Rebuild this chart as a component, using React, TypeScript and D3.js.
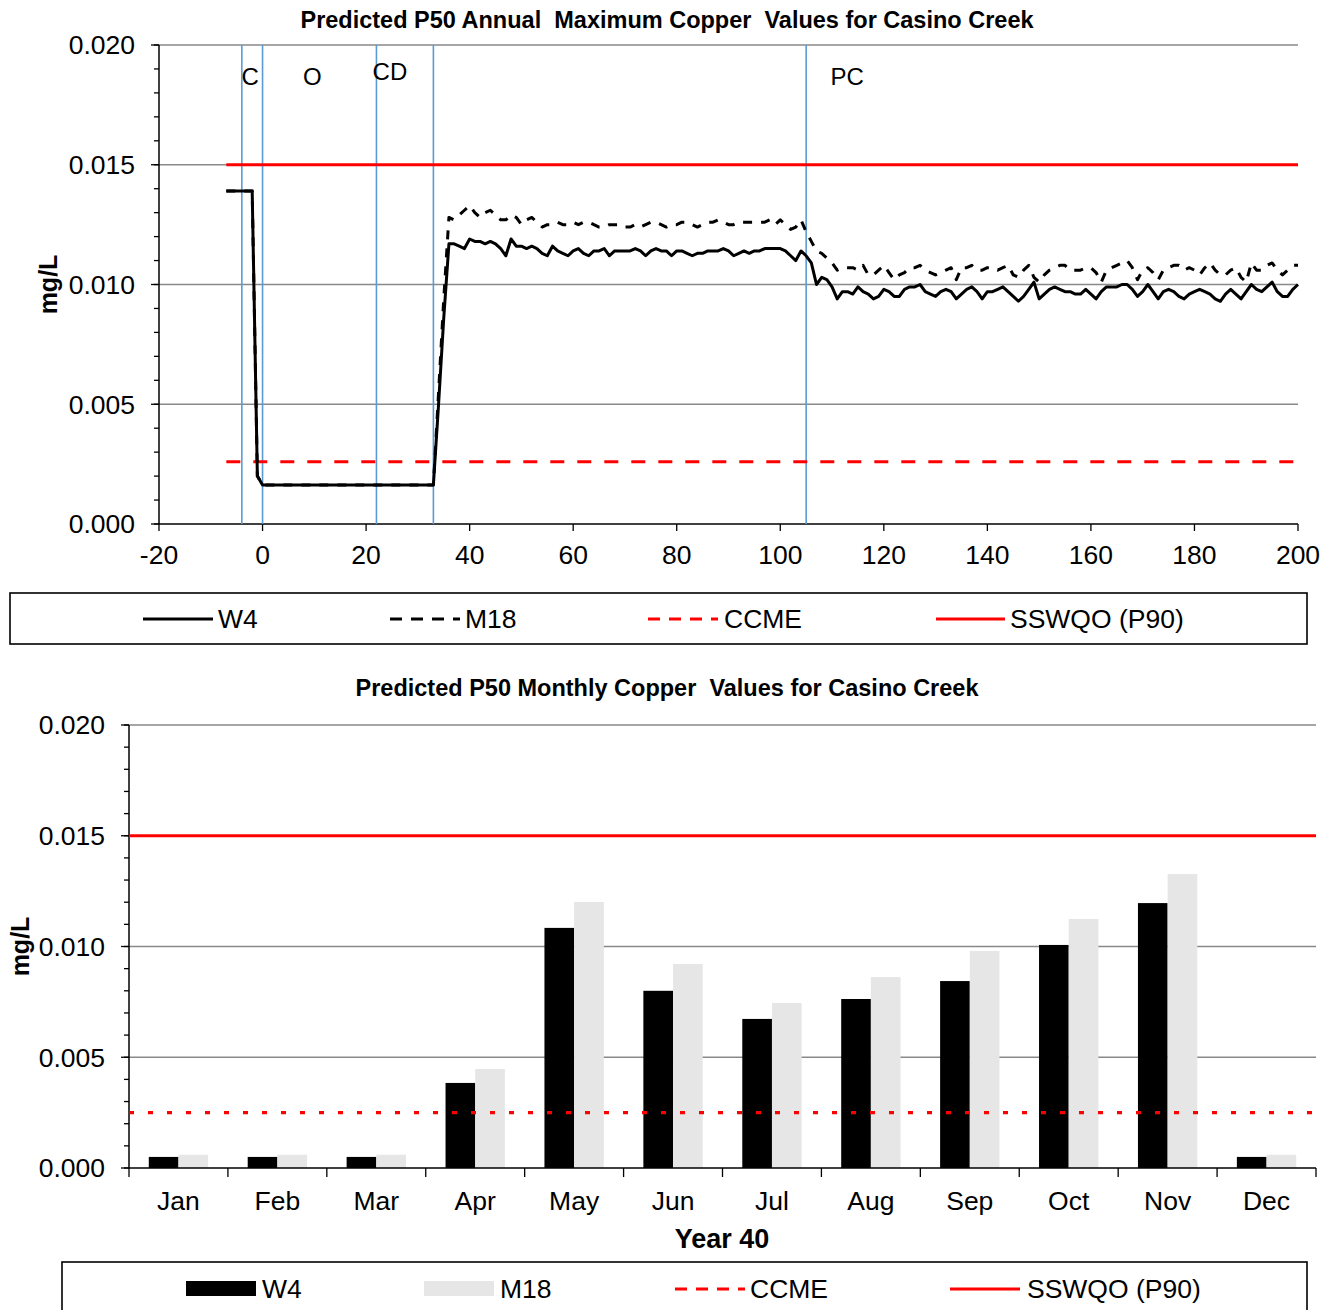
import React from "react";
import * as d3 from "d3";

// ---------- Annual maximum series (years -7 .. 200) ----------
const yearStart = -7;
const w4Annual = [
  // -7 .. -1
  0.0139, 0.0139, 0.0139, 0.0139, 0.0139, 0.0139, 0.0020,
  // 0 .. 33
  0.00163, 0.00163, 0.00163, 0.00163, 0.00163, 0.00163, 0.00163, 0.00163, 0.00163, 0.00163,
  0.00163, 0.00163, 0.00163, 0.00163, 0.00163, 0.00163, 0.00163, 0.00163, 0.00163, 0.00163,
  0.00163, 0.00163, 0.00163, 0.00163, 0.00163, 0.00163, 0.00163, 0.00163, 0.00163, 0.00163,
  0.00163, 0.00163, 0.00163, 0.00163,
  // 34 .. 66
  0.0050, 0.0086, 0.0117, 0.0117, 0.0116, 0.0115, 0.0119, 0.0118, 0.0118, 0.0117,
  0.0118, 0.0117, 0.0115, 0.0112, 0.0119, 0.0116, 0.0116, 0.0115, 0.0116, 0.0115,
  0.0113, 0.0112, 0.0116, 0.0114, 0.0113, 0.0112, 0.0114, 0.0115, 0.0113, 0.0112,
  0.0114, 0.0114, 0.0115,
  // 67 .. 100
  0.0112, 0.0114, 0.0114, 0.0114, 0.0114, 0.0115, 0.0114, 0.0112, 0.0114, 0.0115,
  0.0114, 0.0114, 0.0112, 0.0114, 0.0114, 0.0113, 0.0112, 0.0113, 0.0113, 0.0114,
  0.0114, 0.0114, 0.0115, 0.0114, 0.0112, 0.0113, 0.0114, 0.0113, 0.0114, 0.0114,
  0.0115, 0.0115, 0.0115, 0.0115,
  // 101 .. 150
  0.0114, 0.0112, 0.0110, 0.0114, 0.0112, 0.0109, 0.0100, 0.0103, 0.0102, 0.0099,
  0.0094, 0.0097, 0.0097, 0.0096, 0.0099, 0.0097, 0.0096, 0.0094, 0.0095, 0.0098,
  0.0097, 0.0095, 0.0095, 0.0098, 0.0099, 0.0099, 0.0100, 0.0097, 0.0096, 0.0095,
  0.0097, 0.0098, 0.0097, 0.0094, 0.0096, 0.0098, 0.0099, 0.0097, 0.0094, 0.0097,
  0.0097, 0.0098, 0.0099, 0.0097, 0.0095, 0.0093, 0.0095, 0.0098, 0.0101, 0.0094,
  // 151 .. 200
  0.0096, 0.0098, 0.0099, 0.0098, 0.0097, 0.0097, 0.0096, 0.0096, 0.0098, 0.0096,
  0.0094, 0.0097, 0.0099, 0.0099, 0.0099, 0.0100, 0.0100, 0.0098, 0.0095, 0.0097,
  0.0100, 0.0097, 0.0094, 0.0097, 0.0098, 0.0097, 0.0095, 0.0094, 0.0096, 0.0097,
  0.0098, 0.0097, 0.0096, 0.0094, 0.0093, 0.0096, 0.0098, 0.0096, 0.0094, 0.0097,
  0.0100, 0.0098, 0.0097, 0.0099, 0.0101, 0.0097, 0.0095, 0.0095, 0.0098, 0.0100,
];

const m18Annual = [
  // -7 .. -1
  0.0139, 0.0139, 0.0139, 0.0139, 0.0139, 0.0139, 0.0020,
  // 0 .. 33
  0.00163, 0.00163, 0.00163, 0.00163, 0.00163, 0.00163, 0.00163, 0.00163, 0.00163, 0.00163,
  0.00163, 0.00163, 0.00163, 0.00163, 0.00163, 0.00163, 0.00163, 0.00163, 0.00163, 0.00163,
  0.00163, 0.00163, 0.00163, 0.00163, 0.00163, 0.00163, 0.00163, 0.00163, 0.00163, 0.00163,
  0.00163, 0.00163, 0.00163, 0.00163,
  // 34 .. 66
  0.0055, 0.0094, 0.0128, 0.0127, 0.0129, 0.0131, 0.0133, 0.0130, 0.0128, 0.0130,
  0.0131, 0.0129, 0.0127, 0.0127, 0.0129, 0.0128, 0.0125, 0.0127, 0.0128, 0.0126,
  0.0124, 0.0125, 0.0125, 0.0126, 0.0125, 0.0125, 0.0126, 0.0125, 0.0126, 0.0126,
  0.0125, 0.0124, 0.0124,
  // 67 .. 100
  0.0125, 0.0125, 0.0125, 0.0124, 0.0124, 0.0125, 0.0124, 0.0125, 0.0126, 0.0126,
  0.0125, 0.0124, 0.0125, 0.0125, 0.0126, 0.0126, 0.0125, 0.0124, 0.0125, 0.0126,
  0.0126, 0.0127, 0.0126, 0.0125, 0.0125, 0.0126, 0.0126, 0.0126, 0.0126, 0.0126,
  0.0126, 0.0127, 0.0125, 0.0127,
  // 101 .. 150
  0.0125, 0.0123, 0.0124, 0.0127, 0.0122, 0.0118, 0.0114, 0.0113, 0.0111, 0.0109,
  0.0106, 0.0107, 0.0107, 0.0107, 0.0106, 0.0108, 0.0104, 0.0104, 0.0106, 0.0108,
  0.0105, 0.0102, 0.0104, 0.0105, 0.0107, 0.0107, 0.0108, 0.0106, 0.0105, 0.0104,
  0.0105, 0.0106, 0.0107, 0.0102, 0.0107, 0.0107, 0.0108, 0.0106, 0.0106, 0.0107,
  0.0107, 0.0106, 0.0107, 0.0108, 0.0104, 0.0103, 0.0106, 0.0108, 0.0103, 0.0101,
  // 151 .. 200
  0.0104, 0.0106, 0.0107, 0.0108, 0.0108, 0.0106, 0.0106, 0.0106, 0.0107, 0.0107,
  0.0105, 0.0101, 0.0106, 0.0107, 0.0108, 0.0109, 0.0110, 0.0107, 0.0102, 0.0106,
  0.0107, 0.0105, 0.0102, 0.0106, 0.0107, 0.0108, 0.0108, 0.0106, 0.0107, 0.0106,
  0.0104, 0.0107, 0.0109, 0.0106, 0.0104, 0.0104, 0.0106, 0.0107, 0.0103, 0.0101,
  0.0109, 0.0106, 0.0106, 0.0108, 0.0109, 0.0106, 0.0104, 0.0106, 0.0108, 0.0108,
];

// Mine phase boundaries and labels
const phaseBoundaries = [-4, 0, 22, 33, 105];
const phaseLabels = [
  { label: "C", year: -2.4, value: 0.0187 },
  { label: "O", year: 9.6, value: 0.0187 },
  { label: "CD", year: 24.6, value: 0.0189 },
  { label: "PC", year: 112.9, value: 0.0187 },
];

// Guidelines
const sswqo = 0.015;
const ccmeAnnual = 0.0026;
const ccmeMonthly = 0.0025;

// ---------- Monthly series (Year 40) ----------
const months = ["Jan", "Feb", "Mar", "Apr", "May", "Jun", "Jul", "Aug", "Sep", "Oct", "Nov", "Dec"];
const w4Monthly = [0.0005, 0.0005, 0.0005, 0.00384, 0.01084, 0.0080, 0.00673, 0.00763, 0.00844, 0.01007, 0.01196, 0.0005];
const m18Monthly = [0.0006, 0.0006, 0.0006, 0.00447, 0.01201, 0.00921, 0.00745, 0.00862, 0.0098, 0.01124, 0.01327, 0.0006];

const yTicks = [0, 0.005, 0.01, 0.015, 0.02];
const xTicksAnnual = [-20, 0, 20, 40, 60, 80, 100, 120, 140, 160, 180, 200];

const FONT = "'Liberation Sans', Arial, sans-serif";
const GRID = "#898989";
const BLUE = "#5B9BD5";
const RED = "#FF0000";
const LIGHT = "#E6E6E6";
const FS = 26.5;
const TITLE_FS = 23.5;

function YAxis({ y, x0, x1, labelX }: { y: d3.ScaleLinear<number, number>; x0: number; x1: number; labelX: number }) {
  const minor = d3.range(0, 21).map((i) => i * 0.001);
  return (
    <g>
      {yTicks.slice(1).map((t) => (
        <line key={"g" + t} x1={x0} x2={x1} y1={y(t)} y2={y(t)} stroke={GRID} strokeWidth={1.6} />
      ))}
      {minor.map((t) => (
        <line key={"m" + t} x1={x0 - 5} x2={x0} y1={y(t)} y2={y(t)} stroke="#000" strokeWidth={1.3} />
      ))}
      {yTicks.map((t) => (
        <line key={"t" + t} x1={x0 - 8} x2={x0} y1={y(t)} y2={y(t)} stroke="#000" strokeWidth={1.3} />
      ))}
      {yTicks.map((t) => (
        <text key={"l" + t} x={labelX} y={y(t)} dy="0.35em" textAnchor="end" fontSize={FS} fontFamily={FONT}>
          {d3.format(".3f")(t)}
        </text>
      ))}
      <line x1={x0} x2={x0} y1={y(0.02)} y2={y(0)} stroke="#000" strokeWidth={1.5} />
    </g>
  );
}

function AnnualChart() {
  const x = d3.scaleLinear().domain([-20, 200]).range([159, 1298]);
  const y = d3.scaleLinear().domain([0, 0.02]).range([524, 45]);
  const years = d3.range(yearStart, yearStart + w4Annual.length);
  const line = d3
    .line<number>()
    .x((_, i) => x(years[i]))
    .y((d) => y(d))
    .curve(d3.curveLinear);
  const x0 = x(yearStart);
  const x1 = x(200);

  return (
    <g>
      <text x={667} y={28} textAnchor="middle" fontSize={TITLE_FS} fontWeight="bold" fontFamily={FONT} style={{ whiteSpace: "pre" }}>
        {"Predicted P50 Annual  Maximum Copper  Values for Casino Creek"}
      </text>
      <YAxis y={y} x0={159} x1={1298} labelX={135} />
      {/* x axis */}
      <line x1={159} x2={1298} y1={524} y2={524} stroke="#000" strokeWidth={1.5} />
      {xTicksAnnual.map((t) => (
        <g key={t}>
          <line x1={x(t)} x2={x(t)} y1={524} y2={531} stroke="#000" strokeWidth={1.3} />
          <text x={x(t)} y={564} textAnchor="middle" fontSize={FS} fontFamily={FONT}>
            {t}
          </text>
        </g>
      ))}
      <text
        transform={`translate(57,${y(0.01)}) rotate(-90)`}
        textAnchor="middle"
        fontSize={25}
        fontWeight="bold"
        fontFamily={FONT}
      >
        mg/L
      </text>
      {/* phase boundaries */}
      {phaseBoundaries.map((b) => (
        <line key={b} x1={x(b)} x2={x(b)} y1={y(0.02)} y2={y(0)} stroke={BLUE} strokeWidth={1.6} />
      ))}
      {phaseLabels.map((p) => (
        <text key={p.label} x={x(p.year)} y={y(p.value)} dy="0.35em" textAnchor="middle" fontSize={24} fontFamily={FONT}>
          {p.label}
        </text>
      ))}
      {/* guidelines */}
      <line x1={x0} x2={x1} y1={y(sswqo)} y2={y(sswqo)} stroke={RED} strokeWidth={3.2} />
      <line x1={x0} x2={x1} y1={y(ccmeAnnual)} y2={y(ccmeAnnual)} stroke={RED} strokeWidth={3.2} strokeDasharray="14 13" />
      {/* series */}
      <path d={line(m18Annual) || ""} fill="none" stroke="#000" strokeWidth={3} strokeDasharray="9 9" strokeLinejoin="round" />
      <path d={line(w4Annual) || ""} fill="none" stroke="#000" strokeWidth={3} strokeLinejoin="round" />
      {/* legend */}
      <rect x={10} y={593} width={1297} height={51} fill="none" stroke="#000" strokeWidth={1.6} />
      <line x1={143} x2={213} y1={619} y2={619} stroke="#000" strokeWidth={3} />
      <text x={218} y={628} fontSize={FS} fontFamily={FONT}>W4</text>
      <line x1={390} x2={460} y1={619} y2={619} stroke="#000" strokeWidth={3} strokeDasharray="12 9" />
      <text x={465} y={628} fontSize={FS} fontFamily={FONT}>M18</text>
      <line x1={648} x2={718} y1={619} y2={619} stroke={RED} strokeWidth={3} strokeDasharray="12 9" />
      <text x={724} y={628} fontSize={FS} fontFamily={FONT}>CCME</text>
      <line x1={936} x2={1005} y1={619} y2={619} stroke={RED} strokeWidth={3.2} />
      <text x={1010} y={628} fontSize={FS} fontFamily={FONT}>SSWQO (P90)</text>
    </g>
  );
}

function MonthlyChart() {
  const x = d3.scaleBand<string>().domain(months).range([129, 1316]).padding(0);
  const y = d3.scaleLinear().domain([0, 0.02]).range([1168, 725]);
  const bw = x.step() * 0.3;
  const bounds = d3.range(0, months.length + 1).map((i) => 129 + i * x.step());

  return (
    <g>
      <text x={667} y={696} textAnchor="middle" fontSize={TITLE_FS} fontWeight="bold" fontFamily={FONT} style={{ whiteSpace: "pre" }}>
        {"Predicted P50 Monthly Copper  Values for Casino Creek"}
      </text>
      <YAxis y={y} x0={129} x1={1316} labelX={105} />
      {/* bars */}
      {months.map((m, i) => {
        const c = (x(m) as number) + x.bandwidth() / 2;
        return (
          <g key={m}>
            <rect x={c - bw} y={y(w4Monthly[i])} width={bw} height={y(0) - y(w4Monthly[i])} fill="#000" />
            <rect x={c} y={y(m18Monthly[i])} width={bw} height={y(0) - y(m18Monthly[i])} fill={LIGHT} />
          </g>
        );
      })}
      {/* guidelines */}
      <line x1={129} x2={1316} y1={y(sswqo)} y2={y(sswqo)} stroke={RED} strokeWidth={3.2} />
      <line x1={129} x2={1316} y1={y(ccmeMonthly)} y2={y(ccmeMonthly)} stroke={RED} strokeWidth={3.2} strokeDasharray="5 14" />
      {/* x axis */}
      <line x1={129} x2={1316} y1={1168} y2={1168} stroke="#000" strokeWidth={1.5} />
      {bounds.map((b) => (
        <line key={b} x1={b} x2={b} y1={1168} y2={1177} stroke="#000" strokeWidth={1.3} />
      ))}
      {months.map((m) => (
        <text key={m} x={(x(m) as number) + x.bandwidth() / 2} y={1210} textAnchor="middle" fontSize={FS} fontFamily={FONT}>
          {m}
        </text>
      ))}
      <text x={722} y={1248} textAnchor="middle" fontSize={27} fontWeight="bold" fontFamily={FONT}>
        Year 40
      </text>
      <text
        transform={`translate(29,${y(0.01)}) rotate(-90)`}
        textAnchor="middle"
        fontSize={25}
        fontWeight="bold"
        fontFamily={FONT}
      >
        mg/L
      </text>
      {/* legend */}
      <rect x={62} y={1262} width={1245} height={70} fill="none" stroke="#000" strokeWidth={1.6} />
      <rect x={186} y={1281} width={70} height={15} fill="#000" />
      <text x={262} y={1298} fontSize={FS} fontFamily={FONT}>W4</text>
      <rect x={424} y={1281} width={70} height={15} fill={LIGHT} />
      <text x={500} y={1298} fontSize={FS} fontFamily={FONT}>M18</text>
      <line x1={675} x2={745} y1={1289} y2={1289} stroke={RED} strokeWidth={3} strokeDasharray="12 9" />
      <text x={750} y={1298} fontSize={FS} fontFamily={FONT}>CCME</text>
      <line x1={950} x2={1020} y1={1289} y2={1289} stroke={RED} strokeWidth={3.2} />
      <text x={1027} y={1298} fontSize={FS} fontFamily={FONT}>SSWQO (P90)</text>
    </g>
  );
}

export default function App() {
  return (
    <svg
      width={1333}
      height={1310}
      viewBox="0 0 1333 1310"
      style={{ position: "absolute", left: 0, top: 0, background: "#fff" }}
    >
      <rect width={1333} height={1310} fill="#fff" />
      <AnnualChart />
      <MonthlyChart />
    </svg>
  );
}
